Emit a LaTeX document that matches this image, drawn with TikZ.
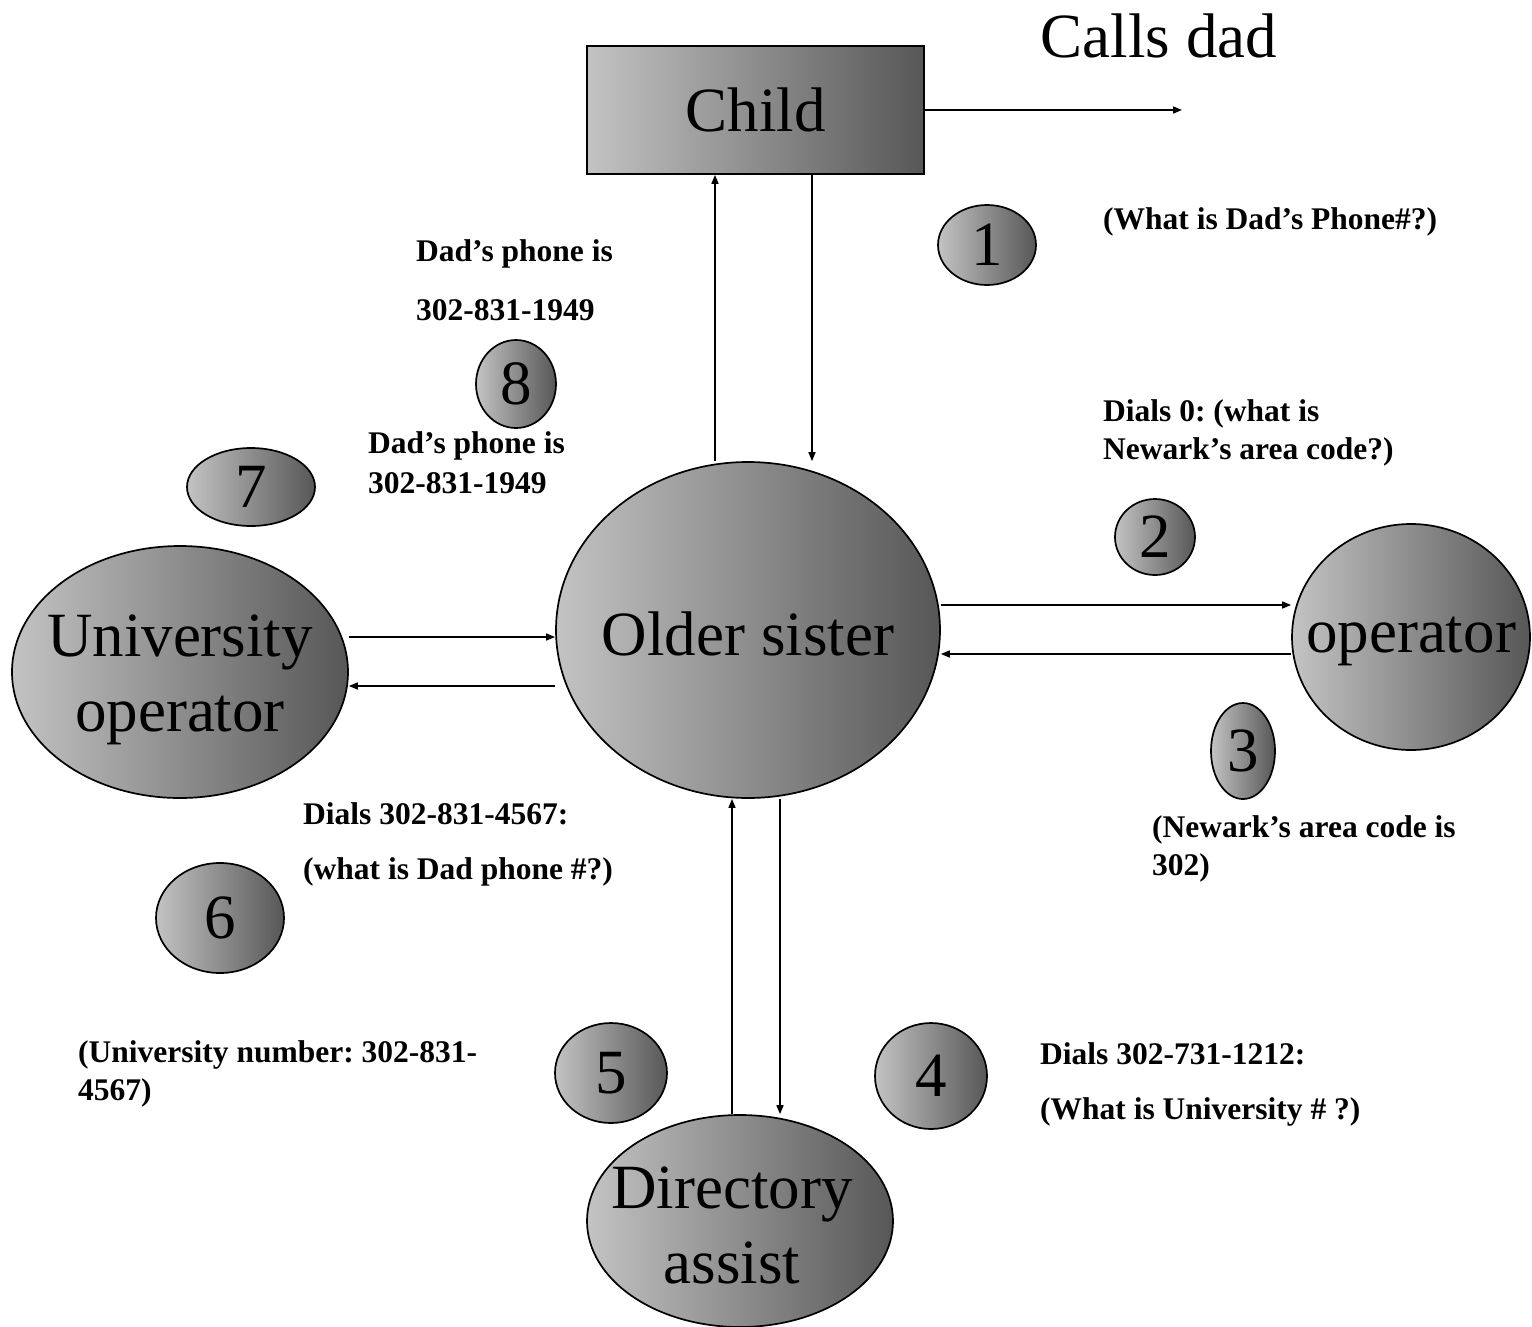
\documentclass[tikz,border=0pt]{standalone}
\usepackage{fontspec}
\setmainfont{Liberation Serif}
\usetikzlibrary{shapes.geometric,arrows.meta,calc}
\definecolor{shadeL}{HTML}{C3C3C3}
\definecolor{shadeR}{HTML}{575757}
\frenchspacing
\begin{document}
\begin{tikzpicture}[x=1pt,y=-1pt,
  shaded/.style={draw=black, line width=1.7pt, left color=shadeL, right color=shadeR},
  bigball/.style={shaded, ellipse, inner sep=0pt},
  bigtext/.style={font=\fontsize{63}{75}\selectfont, align=center, inner sep=0pt, yshift=-4pt},
  numball/.style={shaded, ellipse, inner sep=0pt, font=\fontsize{63}{63}\selectfont},
  note/.style={anchor=west, inner sep=0pt, font=\fontsize{31.5}{38}\selectfont\bfseries},
  flow/.style={line width=1.5pt, -{Triangle[length=9pt,width=7pt]}},
]
\useasboundingbox (0,0) rectangle (1532,1326);

% main parties
\node[shaded, rectangle, minimum width=337pt, minimum height=128pt, inner sep=0pt,
      font=\fontsize{63}{73}\selectfont] (child) at (755.5,110) {Child};
\node[bigball, minimum width=384pt, minimum height=336pt,
      label={[bigtext]center:Older sister}] (sister) at (748,630) {};
\node[bigball, minimum width=336pt, minimum height=252pt,
      label={[bigtext, yshift=-4pt]center:University\\operator}] (univ) at (180,672) {};
\node[bigball, minimum width=238pt, minimum height=226pt,
      label={[bigtext]center:operator}] (oper) at (1411,637) {};
\node[bigball, minimum width=306pt, minimum height=212pt,
      label={[bigtext, xshift=-8pt]center:Directory\\assist}] (dir) at (740,1221) {};

% step numbers
\node[numball, minimum width=98pt, minimum height=80pt] (n1) at (987,245) {1};
\node[numball, minimum width=80pt, minimum height=76pt] (n2) at (1155,537) {2};
\node[numball, minimum width=64pt, minimum height=96pt] (n3) at (1243,751) {3};
\node[numball, minimum width=112pt, minimum height=106pt] (n4) at (931,1076) {4};
\node[numball, minimum width=112pt, minimum height=100pt] (n5) at (611,1073) {5};
\node[numball, minimum width=128pt, minimum height=110pt] (n6) at (220,918) {6};
\node[numball, minimum width=128pt, minimum height=78pt] (n7) at (251,487) {7};
\node[numball, minimum width=80pt, minimum height=88pt] (n8) at (516,384) {8};

% outgoing call
\node[font=\fontsize{63}{73}\selectfont, inner sep=0pt] (calls) at (1159,36) {Calls dad};
\coordinate (dad) at (1182,110);
\draw[flow] (child.east) -- (dad);

% connectors
\draw[flow] (sister.north -| 715,0) -- (child.south -| 715,0);
\draw[flow] (child.south -| 812,0) -- (sister.north -| 812,0);
\draw[flow] (sister.east |- 0,605) -- (oper.west |- 0,605);
\draw[flow] (oper.west |- 0,654) -- (sister.east |- 0,654);
\draw[flow] (univ.east |- 0,637) -- (sister.west |- 0,637);
\draw[flow] (sister.west |- 0,686) -- (univ.east |- 0,686);
\draw[flow] (dir.north -| 732,0) -- (sister.south -| 732,0);
\draw[flow] (sister.south -| 780,0) -- (dir.north -| 780,0);

% messages
\node[note] (m1) at (1103,222) {(What is Dad’s Phone\#?)};
\node[note] (m2a) at (1103,414) {Dials 0: (what is};
\node[note] (m2b) at (1103,452) {Newark’s area code?)};
\node[note] (m3a) at (1152,830) {(Newark’s area code is};
\node[note] (m3b) at (1152,868) {302)};
\node[note] (m4a) at (1040,1054) {Dials 302-731-1212:};
\node[note] (m4b) at (1040,1112) {(What is University \# ?)};
\node[note] (m5a) at (78,1055) {(University number: 302-831-};
\node[note] (m5b) at (78,1093) {4567)};
\node[note] (m6a) at (303,814) {Dials 302-831-4567:};
\node[note] (m6b) at (303,872) {(what is Dad phone \#?)};
\node[note] (m7a) at (368,446) {Dad’s phone is};
\node[note] (m7b) at (368,483) {302-831-1949};
\node[note] (m8a) at (416,254) {Dad’s phone is};
\node[note] (m8b) at (416,310) {302-831-1949};
\end{tikzpicture}
\end{document}
